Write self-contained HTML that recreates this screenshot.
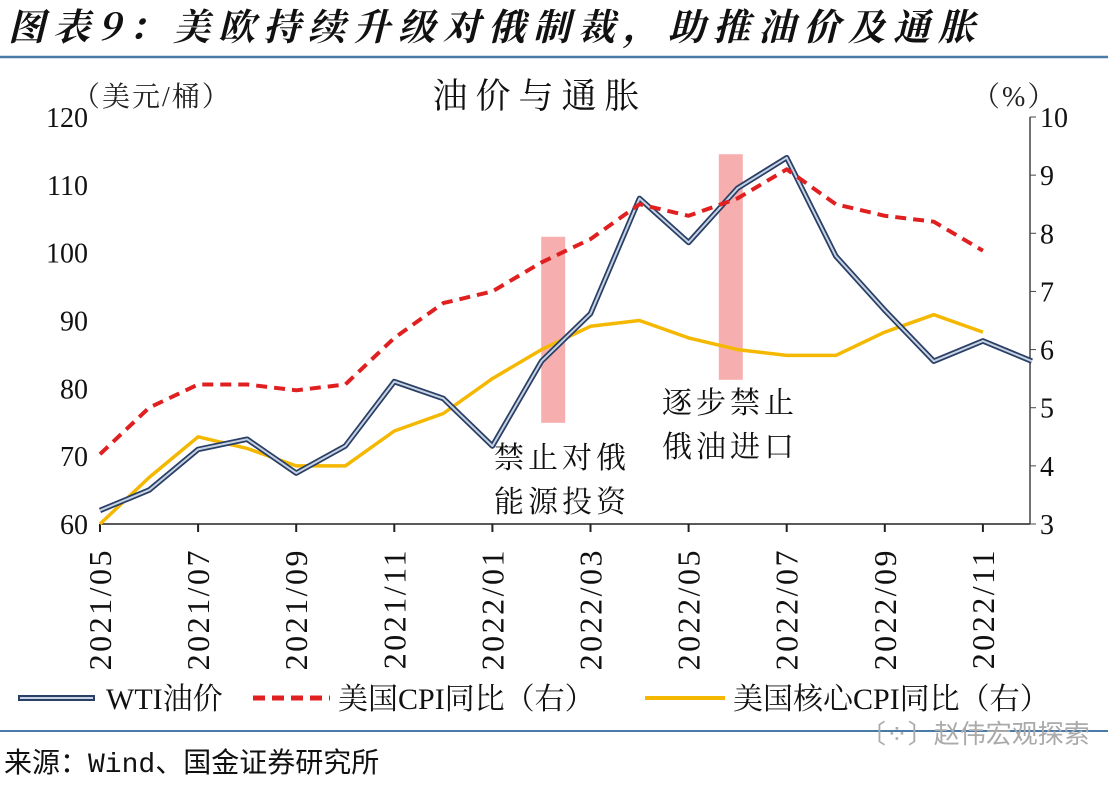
<!DOCTYPE html>
<html><head><meta charset="utf-8"><style>
body{margin:0;background:#fff;}
svg text{font-family:"Liberation Serif","Noto Serif CJK SC",serif;}
</style></head><body>
<svg id="c" width="1108" height="782" xmlns="http://www.w3.org/2000/svg">
<text x="8" y="40" font-size="37" font-weight="bold" font-style="italic" letter-spacing="8" fill="#111" style="font-family:'Noto Serif CJK SC',serif">图表9：美欧持续升级对俄制裁，助推油价及通胀</text>
<line x1="0" y1="57" x2="1108" y2="57" stroke="#4a7aa8" stroke-width="2.5"/>
<text x="72" y="106" font-size="28" letter-spacing="2" fill="#222">（美元/桶）</text>
<text x="540" y="108" font-size="35" letter-spacing="8" text-anchor="middle" fill="#111">油价与通胀</text>
<text x="972" y="106" font-size="28" letter-spacing="2" fill="#222">（%）</text>
<g id="axes"></g>
<g id="bars"></g>
<g id="lines"></g>
<text x="562" y="468" font-size="30" letter-spacing="4" text-anchor="middle" fill="#111">禁止对俄</text>
<text x="562" y="512" font-size="30" letter-spacing="4" text-anchor="middle" fill="#111">能源投资</text>
<text x="730" y="413" font-size="30" letter-spacing="4" text-anchor="middle" fill="#111">逐步禁止</text>
<text x="730" y="457" font-size="30" letter-spacing="4" text-anchor="middle" fill="#111">俄油进口</text>
<g>
<line x1="18" y1="698" x2="95" y2="698" stroke="#2a3f66" stroke-width="6"/>
<line x1="20" y1="698" x2="93" y2="698" stroke="#c7d3e3" stroke-width="2"/>
<text x="106" y="709" font-size="30" fill="#111">WTI油价</text>
<line x1="253" y1="698" x2="330" y2="698" stroke="#e02020" stroke-width="5" stroke-dasharray="12,7"/>
<text x="338" y="709" font-size="30" fill="#111">美国CPI同比（右）</text>
<line x1="645" y1="698" x2="725" y2="698" stroke="#f5b800" stroke-width="4"/>
<text x="733" y="709" font-size="30" fill="#111">美国核心CPI同比（右）</text>
</g>
<line x1="0" y1="731" x2="1108" y2="731" stroke="#4a7aa8" stroke-width="2"/>
<text x="860" y="743" font-size="26" fill="#aaa" style="font-family:'Noto Sans CJK SC',sans-serif">〔⁘〕赵伟宏观探索</text>
<text x="4" y="772" font-size="28" fill="#111" style="font-family:'Liberation Mono','Noto Sans CJK SC',monospace">来源：Wind、国金证券研究所</text>
</svg>
<script>
const months=["2021/05","2021/06","2021/07","2021/08","2021/09","2021/10","2021/11","2021/12","2022/01","2022/02","2022/03","2022/04","2022/05","2022/06","2022/07","2022/08","2022/09","2022/10","2022/11","2022/12"];
const wti=[62,65,71,72.5,67.5,71.5,81,78.5,71.5,84,91,108,101.5,109.5,114,99.5,91.5,84,87,84];
const cpi=[4.2,5.0,5.4,5.4,5.3,5.4,6.2,6.8,7.0,7.5,7.9,8.5,8.3,8.6,9.1,8.5,8.3,8.2,7.7];
const coreCpi=[3.0,3.8,4.5,4.3,4.0,4.0,4.6,4.9,5.5,6.0,6.4,6.5,6.2,6.0,5.9,5.9,6.3,6.6,6.3];
const leftTicks=[60,70,80,90,100,110,120];
const rightTicks=[3,4,5,6,7,8,9,10];
const events=[{m:9.24,top:7.94,bottom:4.74},{m:12.86,top:9.36,bottom:5.48}];
const NS="http://www.w3.org/2000/svg";
const X0=100,DX=49.05,YT=117,YB=524;
const x=i=>X0+i*DX;
const yl=v=>YB-(v-60)/60*(YB-YT);
const yr=v=>YB-(v-3)/7*(YB-YT);
function mk(t,a,p){const e=document.createElementNS(NS,t);for(const k in a)e.setAttribute(k,a[k]);p.appendChild(e);return e;}
const ax=document.getElementById('axes');
let e=mk('line',{x1:X0,y1:YB,x2:1030,y2:YB,stroke:'#222','stroke-width':1.5},ax);


e=mk('line',{x1:1030,y1:YT,x2:1030,y2:YB,stroke:'#444','stroke-width':1.5},ax);


leftTicks.forEach(v=>{
 const t=mk('text',{x:88,y:yl(v)+10,'font-size':28,'text-anchor':'end',fill:'#111'},ax);t.textContent=v;
 
 
});
rightTicks.forEach(v=>{
 const t=mk('text',{x:1040,y:yr(v)+10,'font-size':28,fill:'#111'},ax);t.textContent=v;
 
 
 const l=mk('line',{x1:1030,y1:yr(v),x2:1036,y2:yr(v),stroke:'#444'},ax);
 
 
});
months.forEach((m,i)=>{
 if(i%2)return;
 const l=mk('line',{x1:x(i),y1:YB,x2:x(i),y2:YB+8,stroke:'#222','stroke-width':2},ax);
 
 
 const t=mk('text',{x:0,y:0,'font-size':32,'letter-spacing':2.5,'text-anchor':'end',fill:'#111',transform:`translate(${x(i)+11},548) rotate(-90)`},ax);t.textContent=m;
 
 
});
const bg=document.getElementById('bars');
events.forEach(ev=>{
 const r=mk('rect',{x:x(ev.m)-12,y:yr(ev.top),width:24,height:yr(ev.bottom)-yr(ev.top),fill:'#f4a0a0',opacity:0.85},bg);
 
 
});
const lg=document.getElementById('lines');
const pts=(arr,f)=>arr.map((v,i)=>x(i).toFixed(1)+','+f(v).toFixed(1)).join(' ');
e=mk('polyline',{points:pts(coreCpi,yr),fill:'none',stroke:'#f5b800','stroke-width':3.5,'stroke-linejoin':'round'},lg);


e=mk('polyline',{points:pts(wti,yl),fill:'none',stroke:'#2a3f66','stroke-width':5.5,'stroke-linejoin':'round'},lg);


e=mk('polyline',{points:pts(wti,yl),fill:'none',stroke:'#c7d3e3','stroke-width':2,'stroke-linejoin':'round'},lg);


e=mk('polyline',{points:pts(cpi,yr),fill:'none',stroke:'#e02020','stroke-width':4,'stroke-dasharray':'11,7','stroke-linejoin':'round'},lg);


</script>
</body></html>
